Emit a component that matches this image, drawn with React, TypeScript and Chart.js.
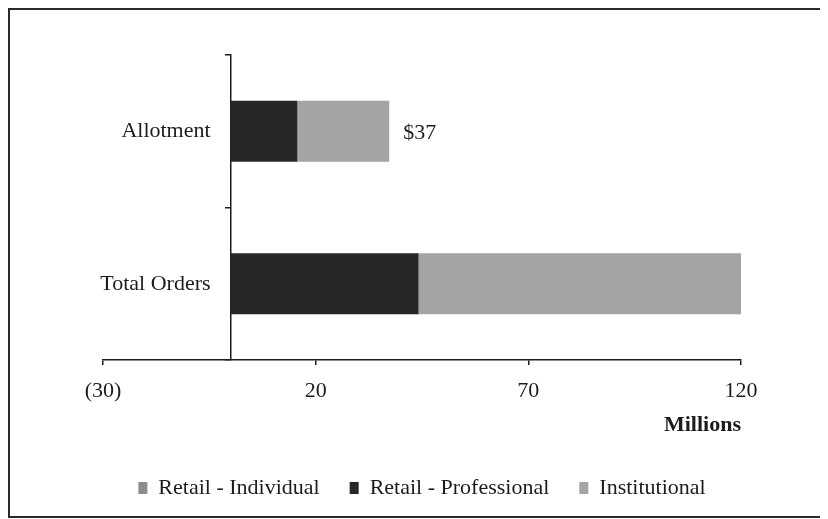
import React, { useEffect, useRef } from "react";
import { Chart, registerables } from "chart.js";

Chart.register(...registerables);

const categories = ["Allotment", "Total Orders"];
const seriesNames = ["Retail - Individual", "Retail - Professional", "Institutional"];
const retailIndividual = [0, 0];
const retailProfessional = [15.7, 44.2];
const institutional = [21.6, 76.1];
const totalLabels = ["$37", ""];
const xTickValues = [-30, 20, 70, 120];
const axisTitle = "Millions";

const FONT = "'Liberation Serif', 'Times New Roman', serif";
const INK = "#1c1c1c";
const FS = 22;

const labelsPlugin = {
  id: "customLabels",
  afterDatasetsDraw(chart: any) {
    const ctx = chart.ctx;
    const xs = chart.scales.x;
    const ys = chart.scales.y;
    ctx.save();
    ctx.font = `${FS}px ${FONT}`;
    ctx.fillStyle = INK;
    // category labels, placed left of the zero axis
    ctx.textAlign = "right";
    ctx.textBaseline = "middle";
    const x0 = xs.getPixelForValue(0);
    categories.forEach((c, i) => {
      ctx.fillText(c, x0 - 20, ys.getPixelForValue(i));
    });
    // total labels after the stacked bars
    const lastIdx = chart.data.datasets.length - 1;
    const meta = chart.getDatasetMeta(lastIdx);
    ctx.textAlign = "left";
    meta.data.forEach((bar: any, i: number) => {
      const t = totalLabels[i];
      if (!t) return;
      ctx.fillText(t, bar.x + 14, bar.y + 2);
    });
    ctx.restore();
  },
};

export default function App() {
  const ref = useRef<HTMLCanvasElement | null>(null);

  useEffect(() => {
    if (!ref.current) return;
    Chart.defaults.font.family = FONT;
    const chart = new Chart(ref.current, {
      type: "bar",
      data: {
        labels: categories,
        datasets: [
          { label: seriesNames[0], data: retailIndividual, backgroundColor: "#8e8e8e", borderWidth: 0 },
          { label: seriesNames[1], data: retailProfessional, backgroundColor: "#272727", borderWidth: 0 },
          { label: seriesNames[2], data: institutional, backgroundColor: "#a4a4a4", borderWidth: 0 },
        ],
      },
      options: {
        indexAxis: "y",
        animation: false,
        responsive: false,
        maintainAspectRatio: false,
        layout: { padding: { left: 93, right: 83, top: 45, bottom: 7 } },
        datasets: { bar: { categoryPercentage: 0.5, barPercentage: 0.8 } },
        scales: {
          x: {
            type: "linear",
            stacked: true,
            min: -30,
            max: 120,
            afterBuildTicks: (s: any) => {
              s.ticks = xTickValues.map((v) => ({ value: v }));
            },
            afterFit: (s: any) => {
              s.height = 87;
            },
            ticks: {
              callback: (v: any) => (Number(v) < 0 ? `(${Math.abs(Number(v))})` : `${v}`),
              font: { size: FS },
              color: INK,
              padding: 13,
              maxRotation: 0,
              autoSkip: false,
            },
            grid: { drawOnChartArea: false, drawTicks: true, tickLength: 5, color: INK, lineWidth: 1.5 },
            border: { display: true, color: INK, width: 1.5 },
            title: {
              display: true,
              text: axisTitle,
              align: "end",
              color: INK,
              font: { size: FS, weight: "bold" },
              padding: { top: 0, bottom: 8 },
            },
          },
          y: {
            type: "category",
            stacked: true,
            position: { x: 0 } as any,
            ticks: { display: false },
            grid: { drawOnChartArea: false, drawTicks: true, tickLength: 5, color: INK, lineWidth: 1.5 },
            border: { display: true, color: INK, width: 1.5 },
          },
        },
        plugins: {
          legend: {
            position: "bottom",
            labels: { boxWidth: 9, boxHeight: 12, padding: 30, font: { size: FS }, color: INK },
          },
          tooltip: { enabled: false },
        },
      },
      plugins: [labelsPlugin],
    } as any);
    return () => chart.destroy();
  }, []);

  return (
    <div
      style={{
        width: 818,
        height: 510,
        boxSizing: "border-box",
        border: "2px solid #2a2a2a",
        background: "#fff",
      }}
    >
      <canvas ref={ref} width={814} height={506} style={{ display: "block", width: 814, height: 506 }} />
    </div>
  );
}
